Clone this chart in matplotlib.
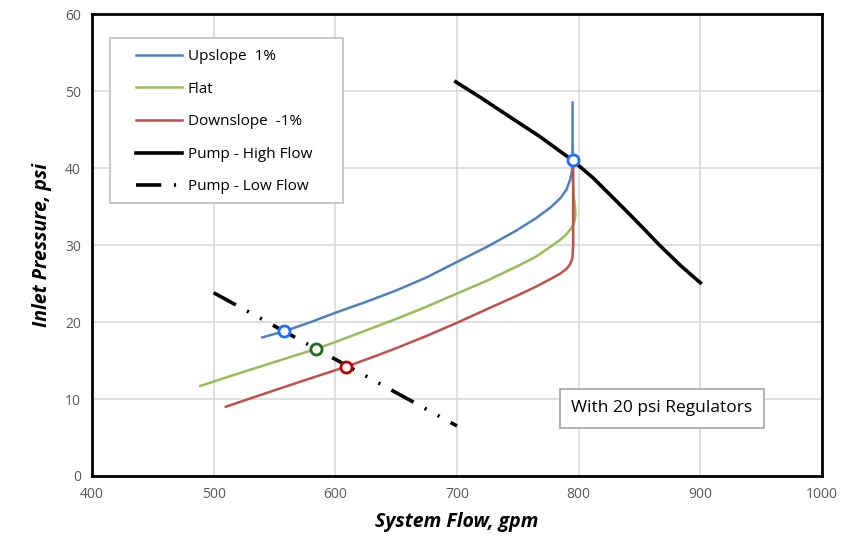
import matplotlib
matplotlib.use("Agg")
import matplotlib.pyplot as plt
from matplotlib.patches import Rectangle

plt.rcParams['font.family'] = ['Open Sans', 'DejaVu Sans']

up_x = [540, 558, 580, 600, 625, 650, 675, 700, 725, 749, 765, 777, 785, 790, 793, 794.5, 795, 795]
up_y = [18.0, 18.8, 20.0, 21.2, 22.6, 24.1, 25.8, 27.8, 29.8, 31.9, 33.5, 34.9, 36.1, 37.2, 38.5, 39.6, 41.0, 48.5]

flat_x = [489, 520, 550, 584, 600, 625, 650, 675, 700, 725, 749, 765, 777, 785, 790, 794, 796.5, 797.3, 797, 795.8, 795.2, 795.2]
flat_y = [11.7, 13.3, 14.8, 16.5, 17.4, 18.9, 20.4, 22.0, 23.7, 25.4, 27.2, 28.5, 29.8, 30.7, 31.4, 32.2, 33.0, 33.9, 35.0, 36.5, 38.5, 43.0]

down_x = [510, 540, 575, 609, 630, 650, 675, 700, 725, 749, 765, 777, 785, 790, 793, 794.8, 795.5, 795.5]
down_y = [9.0, 10.6, 12.45, 14.2, 15.4, 16.6, 18.2, 19.9, 21.7, 23.4, 24.6, 25.6, 26.3, 26.9, 27.5, 28.3, 30.0, 41.0]

pump_hi_x = [699, 720, 741, 768, 795, 812, 826, 840, 853, 867, 884, 900]
pump_hi_y = [51.2, 49.1, 46.9, 44.1, 41.0, 38.7, 36.5, 34.3, 32.2, 29.9, 27.3, 25.1]

pump_lo_x = [500, 700]
pump_lo_y = [23.8, 6.5]

op_up = (558, 18.8)
op_flat = (584, 16.5)
op_down = (609, 14.2)
op_hi = (795, 41.0)

labels = ["Upslope  1%", "Flat", "Downslope  -1%", "Pump - High Flow", "Pump - Low Flow"]

fig = plt.figure(figsize=(8.41, 5.42), dpi=100)
ax = fig.add_axes([0.1094, 0.1218, 0.868, 0.8522])

c_up = '#4F81BD'
c_flat = '#9BBB59'
c_down = '#C0504D'

ax.plot(up_x, up_y, color=c_up, lw=1.8, label=labels[0], zorder=3)
ax.plot(flat_x, flat_y, color=c_flat, lw=1.8, label=labels[1], zorder=2.9)
ax.plot(down_x, down_y, color=c_down, lw=1.8, label=labels[2], zorder=3.1)
ax.plot(pump_hi_x, pump_hi_y, color='black', lw=2.6, label=labels[3], zorder=2,
        solid_joinstyle='round')
ax.plot(pump_lo_x, pump_lo_y, color='black', lw=2.6, label=labels[4], zorder=2,
        linestyle=(0, (7, 3.5, 0.6, 3.5, 0.6, 3.5)))

ms = 8
ax.plot(*op_up, 'o', ms=ms, mfc='white', mec='#1F6FFF', mew=2, zorder=5)
ax.plot(*op_flat, 'o', ms=ms, mfc='white', mec='#1E6E1E', mew=2, zorder=5)
ax.plot(*op_down, 'o', ms=ms, mfc='white', mec='#C00000', mew=2, zorder=5)
ax.plot(*op_hi, 'o', ms=ms, mfc='white', mec='#1F6FFF', mew=2, zorder=5)

ax.set_xlim(400, 1000)
ax.set_ylim(0, 60)
ax.set_xticks([400, 500, 600, 700, 800, 900, 1000])
ax.set_yticks([0, 10, 20, 30, 40, 50, 60])
ax.grid(True, color='#D9D9D9', lw=1.2)
ax.set_axisbelow(True)
for s in ax.spines.values():
    s.set_color('black')
    s.set_linewidth(2)
ax.tick_params(length=0, labelsize=10, colors='#595959', pad=8)

ax.set_xlabel("System Flow, gpm", fontsize=14, fontweight='bold', fontstyle='italic', labelpad=7)
ax.set_ylabel("Inlet Pressure, psi", fontsize=14, fontweight='bold', fontstyle='italic', labelpad=9)

# legend frame
ax.add_patch(Rectangle((0.0247, 0.591), 0.3191, 0.357, transform=ax.transAxes,
                       fc='white', ec='#BFBFBF', lw=1.2, zorder=6))
leg = ax.legend(loc='upper left', bbox_to_anchor=(0.0603, 0.924), handlelength=3.0,
                fontsize=11, labelspacing=1.15, borderpad=0, handletextpad=0.4,
                frameon=False, borderaxespad=0)
leg.set_zorder(7)

ax.text(868.5, 8.8, "With 20 psi Regulators", fontsize=12.5, ha='center', va='center',
        bbox=dict(boxstyle='square,pad=0.65', fc='white', ec='#A6A6A6', lw=1.2), zorder=6)

fig.savefig("out.png", dpi=100)
